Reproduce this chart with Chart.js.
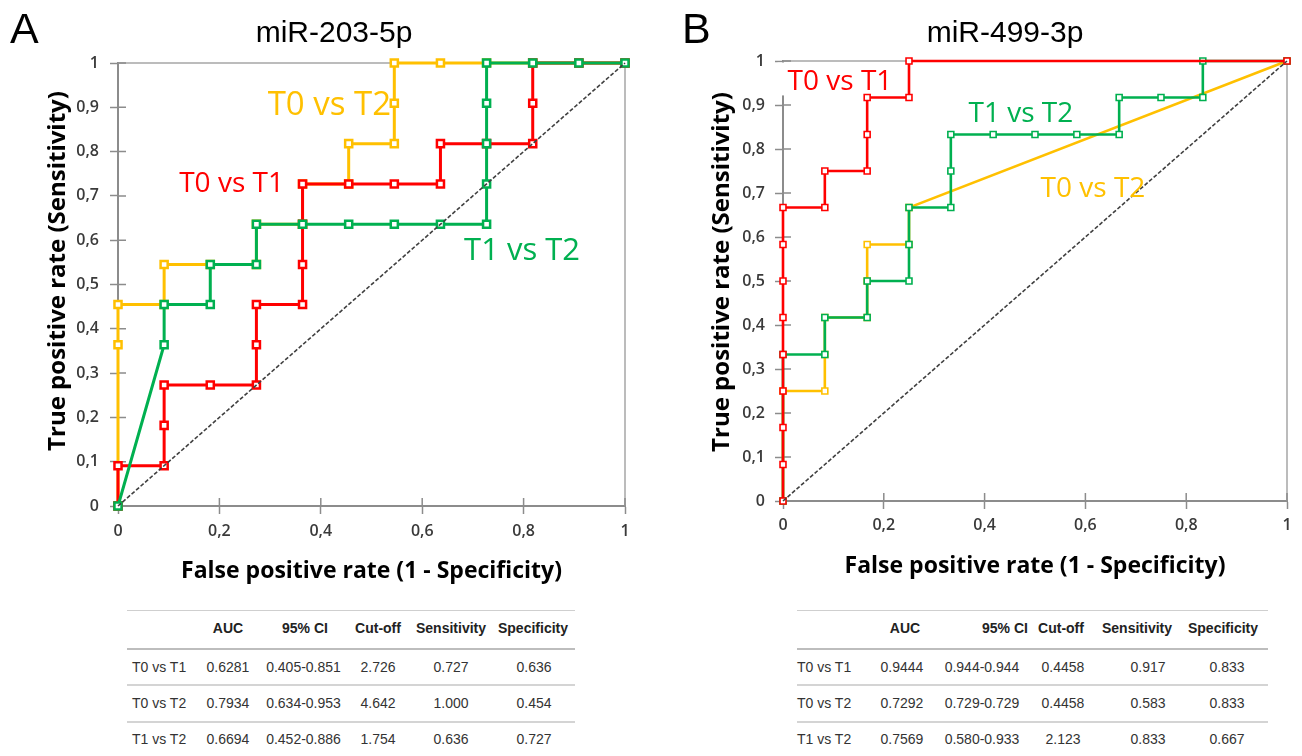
<!DOCTYPE html>
<html>
<head>
<meta charset="utf-8">
<script src="https://cdn.jsdelivr.net/npm/chart.js@4.4.0/dist/chart.umd.min.js"></script>
<style>
  body { margin: 0; background: #fff; }
  #wrap { position: relative; width: 1302px; height: 756px; overflow: hidden; font-family: "Liberation Sans", Arial, sans-serif; }
  canvas { position: absolute; top: 0; }
  #cA { left: 0; }
  #cB { left: 651px; }
  .rule { position: absolute; height: 0; }
  .cell { position: absolute; white-space: nowrap; font-size: 14px; line-height: 16px; height: 16px; color: #333; transform: translateX(-50%); }
  .lab { transform: none; }
  .hd { font-weight: bold; color: #222; }
</style>
</head>
<body>
<div id="wrap">
  <canvas id="cA" width="651" height="600"></canvas>
  <canvas id="cB" width="651" height="600"></canvas>
  <div id="tables"></div>
</div>
<script>
/* ================= DATA ================= */
// Panel A - miR-203-5p (steps of 1/11)
const redAx = [0, 0, 0.091, 0.091, 0.091, 0.182, 0.273, 0.273, 0.273, 0.364, 0.364, 0.364, 0.364, 0.455, 0.545, 0.636, 0.636, 0.727, 0.818, 0.818, 0.818, 0.909, 1];
const redAy = [0, 0.091, 0.091, 0.182, 0.273, 0.273, 0.273, 0.364, 0.455, 0.455, 0.545, 0.636, 0.727, 0.727, 0.727, 0.727, 0.818, 0.818, 0.818, 0.909, 1, 1, 1];

const yelAx = [0, 0, 0, 0.091, 0.091, 0.182, 0.273, 0.273, 0.364, 0.364, 0.455, 0.455, 0.545, 0.545, 0.545, 0.636, 0.727, 0.818, 0.909, 1];
const yelAy = [0, 0.364, 0.455, 0.455, 0.545, 0.545, 0.545, 0.636, 0.636, 0.727, 0.727, 0.818, 0.818, 0.909, 1, 1, 1, 1, 1, 1];

const grnAx = [0, 0.091, 0.091, 0.182, 0.182, 0.273, 0.273, 0.364, 0.455, 0.545, 0.636, 0.727, 0.727, 0.727, 0.727, 0.727, 0.818, 0.909, 1];
const grnAy = [0, 0.364, 0.455, 0.455, 0.545, 0.545, 0.636, 0.636, 0.636, 0.636, 0.636, 0.636, 0.727, 0.818, 0.909, 1, 1, 1, 1];

// Panel B - miR-499-3p (steps of 1/12)
const redBx = [0, 0, 0, 0, 0, 0, 0, 0, 0, 0.083, 0.083, 0.167, 0.167, 0.167, 0.25, 0.25, 1];
const redBy = [0, 0.083, 0.167, 0.25, 0.333, 0.417, 0.5, 0.583, 0.667, 0.667, 0.75, 0.75, 0.833, 0.917, 0.917, 1, 1];

const yelBx = [0, 0, 0.083, 0.083, 0.083, 0.167, 0.167, 0.167, 0.25, 0.25, 1];
const yelBy = [0, 0.25, 0.25, 0.333, 0.417, 0.417, 0.5, 0.583, 0.583, 0.667, 1];

const grnBx = [0, 0, 0.083, 0.083, 0.167, 0.167, 0.25, 0.25, 0.25, 0.333, 0.333, 0.333, 0.417, 0.5, 0.583, 0.667, 0.667, 0.75, 0.833, 0.833, 1];
const grnBy = [0, 0.333, 0.333, 0.417, 0.417, 0.5, 0.5, 0.583, 0.667, 0.667, 0.75, 0.833, 0.833, 0.833, 0.833, 0.833, 0.917, 0.917, 0.917, 1, 1];

// chance line
const diagX = [0, 1];
const diagY = [0, 1];

// tables
const tblCols = ["AUC", "95% CI", "Cut-off", "Sensitivity", "Specificity"];
const tblRows = ["T0 vs T1", "T0 vs T2", "T1 vs T2"];

const aucA  = ["0.6281", "0.7934", "0.6694"];
const ciA   = ["0.405-0.851", "0.634-0.953", "0.452-0.886"];
const cutA  = ["2.726", "4.642", "1.754"];
const sensA = ["0.727", "1.000", "0.636"];
const specA = ["0.636", "0.454", "0.727"];

const aucB  = ["0.9444", "0.7292", "0.7569"];
const ciB   = ["0.944-0.944", "0.729-0.729", "0.580-0.933"];
const cutB  = ["0.4458", "0.4458", "2.123"];
const sensB = ["0.917", "0.583", "0.833"];
const specB = ["0.833", "0.833", "0.667"];

/* ================= COLOURS ================= */
const RED = "#ff0000";
const YEL = "#ffc000";
const GRN = "#00b050";
const AXIS = "#8c8c8c";

/* ================= HELPERS ================= */
function pts(xs, ys) {
  return xs.map((x, i) => ({ x: x, y: ys[i] }));
}

function curve(label, xs, ys, color, st) {
  return {
    label: label,
    data: pts(xs, ys),
    showLine: true,
    tension: 0,
    borderColor: color,
    backgroundColor: color,
    borderWidth: st.lw,
    pointStyle: "rect",
    pointRadius: st.r,
    pointBorderWidth: st.pbw,
    pointBackgroundColor: "#fff",
    pointBorderColor: color,
    clip: false
  };
}

function diagonal() {
  return {
    label: "chance",
    data: pts(diagX, diagY),
    showLine: true,
    borderColor: "#404040",
    borderWidth: 1.6,
    borderDash: [4, 2],
    pointRadius: 0,
    clip: false
  };
}

function fmtTick(v) {
  const r = Math.round(v * 10) / 10;
  return String(r).replace(".", ",");
}

function capText(ctx, text, cx, cy, size, weight, family, color, align) {
  ctx.save();
  ctx.font = weight + " " + size + "px " + family;
  ctx.fillStyle = color;
  ctx.textAlign = align || "center";
  ctx.textBaseline = "alphabetic";
  ctx.fillText(text, cx, cy + size * 0.357);
  ctx.restore();
}

/* ================= DECOR PLUGIN ================= */
function decor(d) {
  return {
    id: "decor",
    beforeDatasetsDraw(chart) {
      const ctx = chart.ctx, a = chart.chartArea;
      const xs = chart.scales.x, ys = chart.scales.y;
      ctx.save();
      // top + right frame
      ctx.strokeStyle = "#a6a6a6";
      ctx.lineWidth = 1.5;
      ctx.beginPath();
      ctx.moveTo(a.left, a.top);
      ctx.lineTo(a.right, a.top);
      ctx.lineTo(a.right, a.bottom);
      ctx.stroke();
      // inner halves of the crossing tick marks
      ctx.strokeStyle = AXIS;
      ctx.lineWidth = 1.5;
      ctx.beginPath();
      xs.ticks.forEach(t => {
        const px = xs.getPixelForValue(t.value);
        ctx.moveTo(px, a.bottom);
        ctx.lineTo(px, a.bottom - 8);
      });
      ys.ticks.forEach(t => {
        const py = ys.getPixelForValue(t.value);
        ctx.moveTo(a.left, py);
        ctx.lineTo(a.left + 8, py);
      });
      ctx.stroke();
      // white box behind a label that sits on the axis
      d.labels.forEach(l => {
        if (!l.box) return;
        ctx.font = "400 " + l.size + "px 'Open Sans'";
        const w = ctx.measureText(l.text).width;
        const cx = xs.getPixelForValue(l.x), cy = ys.getPixelForValue(l.y);
        ctx.fillStyle = "#fff";
        ctx.fillRect(cx - w / 2 - 10, a.top + 1.5, w + 16, cy - a.top + l.size * 0.5);
      });
      ctx.restore();
    },
    afterDatasetsDraw(chart) {
      const ctx = chart.ctx, a = chart.chartArea;
      const xs = chart.scales.x, ys = chart.scales.y;
      // curve labels
      d.labels.forEach(l => {
        capText(ctx, l.text, xs.getPixelForValue(l.x), ys.getPixelForValue(l.y), l.size, "400", "'Open Sans'", l.color);
      });
      // panel letter + title
      ctx.save();
      ctx.fillStyle = "#000";
      ctx.font = "43px 'Liberation Sans'";
      ctx.textAlign = "left";
      ctx.fillText(d.letter, d.letterX, 43);
      ctx.font = "30px 'Liberation Sans'";
      ctx.textAlign = "center";
      ctx.fillText(d.title, d.titleX, 42);
      ctx.restore();
      // axis titles
      capText(ctx, "False positive rate (1 - Specificity)", (a.left + a.right) / 2, d.xTitleY, 23, "700", "'Open Sans'", "#000");
      ctx.save();
      ctx.translate(d.yTitleX, d.yTitleY);
      ctx.rotate(-Math.PI / 2);
      capText(ctx, "True positive rate (Sensitivity)", 0, 0, 24, "700", "'Open Sans'", "#000");
      ctx.restore();
    }
  };
}

/* ================= CHART BUILDER ================= */
function makeChart(id, datasets, g, d) {
  const tickFont = { family: "'Open Sans'", size: 16, weight: "600" };
  const grid = { display: true, drawOnChartArea: false, drawTicks: true, tickLength: 8, tickColor: AXIS, tickWidth: 1.5 };
  const border = { display: true, color: AXIS, width: 2 };
  return new Chart(document.getElementById(id), {
    type: "scatter",
    data: { datasets: datasets },
    options: {
      responsive: false,
      animation: false,
      events: [],
      layout: { padding: { left: 0, right: g.padRight, top: g.padTop, bottom: 0 } },
      plugins: { legend: { display: false }, tooltip: { enabled: false } },
      scales: {
        x: {
          type: "linear", min: 0, max: 1,
          ticks: { stepSize: 0.2, autoSkip: false, maxRotation: 0, padding: g.xPad, color: "#3a3a3a", font: tickFont, callback: fmtTick },
          grid: grid, border: border,
          afterFit: s => { s.height = g.xHeight; }
        },
        y: {
          type: "linear", min: 0, max: 1,
          ticks: { stepSize: 0.1, autoSkip: false, padding: g.yPad, color: "#3a3a3a", font: tickFont, callback: fmtTick },
          grid: grid, border: border,
          afterFit: s => { s.width = g.yWidth; }
        }
      }
    },
    plugins: [decor(d)]
  });
}

/* ================= TABLES ================= */
function buildTable(host, lay, cols) {
  const ruleY = [610, 648, 684, 721];
  const ruleStyle = ["1px solid #cfcfcf", "2.5px solid #bdbdbd", "2px solid #d4d4d4", "2px solid #d4d4d4"];
  ruleY.forEach((y, i) => {
    const r = document.createElement("div");
    r.className = "rule";
    r.style.left = lay.left + "px";
    r.style.width = (lay.right - lay.left) + "px";
    r.style.top = y + "px";
    r.style.borderTop = ruleStyle[i];
    host.appendChild(r);
  });
  const put = (text, x, cy, cls) => {
    const s = document.createElement("span");
    s.className = "cell " + cls;
    s.textContent = text;
    s.style.left = x + "px";
    s.style.top = (cy - 8) + "px";
    host.appendChild(s);
  };
  tblCols.forEach((c, j) => put(c, lay.head[j], 628, "hd"));
  const rowY = [667, 703, 739];
  tblRows.forEach((r, i) => {
    put(r, lay.labelX, rowY[i], "lab");
    cols.forEach((col, j) => put(col[i], lay.body[j], rowY[i], ""));
  });
}

/* ================= INIT ================= */
function init() {
  const stA = { lw: 3, r: 5, pbw: 2.5 };
  const stB = { lw: 2.6, r: 4.2, pbw: 1.6 };

  makeChart("cA",
    [diagonal(),
     curve("T1 vs T2", grnAx, grnAy, GRN, stA),
     curve("T0 vs T1", redAx, redAy, RED, stA),
     curve("T0 vs T2", yelAx, yelAy, YEL, stA)],
    { yWidth: 118, xHeight: 94, padRight: 26, padTop: 63, xPad: 8, yPad: 11 },
    { letter: "A", letterX: 10, title: "miR-203-5p", titleX: 334,
      xTitleY: 570, yTitleX: 56, yTitleY: 271,
      labels: [
        { text: "T0 vs T2", x: 0.417, y: 0.91, size: 33, color: YEL },
        { text: "T0 vs T1", x: 0.224, y: 0.731, size: 28, color: RED },
        { text: "T1 vs T2", x: 0.797, y: 0.58, size: 31, color: GRN }
      ] });

  makeChart("cB",
    [diagonal(),
     curve("T0 vs T1", redBx, redBy, RED, stB),
     curve("T1 vs T2", grnBx, grnBy, GRN, stB),
     curve("T0 vs T2", yelBx, yelBy, YEL, stB)],
    { yWidth: 132, xHeight: 99, padRight: 15, padTop: 61, xPad: 7, yPad: 10 },
    { letter: "B", letterX: 31, title: "miR-499-3p", titleX: 354,
      xTitleY: 565, yTitleX: 69, yTitleY: 272,
      labels: [
        { text: "T0 vs T1", x: 0.113, y: 0.957, size: 28, color: RED, box: true },
        { text: "T1 vs T2", x: 0.472, y: 0.883, size: 28, color: GRN },
        { text: "T0 vs T2", x: 0.615, y: 0.714, size: 28, color: YEL }
      ] });

  const host = document.getElementById("tables");
  buildTable(host,
    { left: 127, right: 575, labelX: 132, head: [228, 305, 378, 451, 533], body: [228, 303.5, 378, 451, 534] },
    [aucA, ciA, cutA, sensA, specA]);
  buildTable(host,
    { left: 797, right: 1268, labelX: 797, head: [905, 1005, 1061, 1137, 1223], body: [902, 982, 1063, 1148, 1227] },
    [aucB, ciB, cutB, sensB, specB]);
}

window.addEventListener("load", init);
</script>
</body>
</html>
